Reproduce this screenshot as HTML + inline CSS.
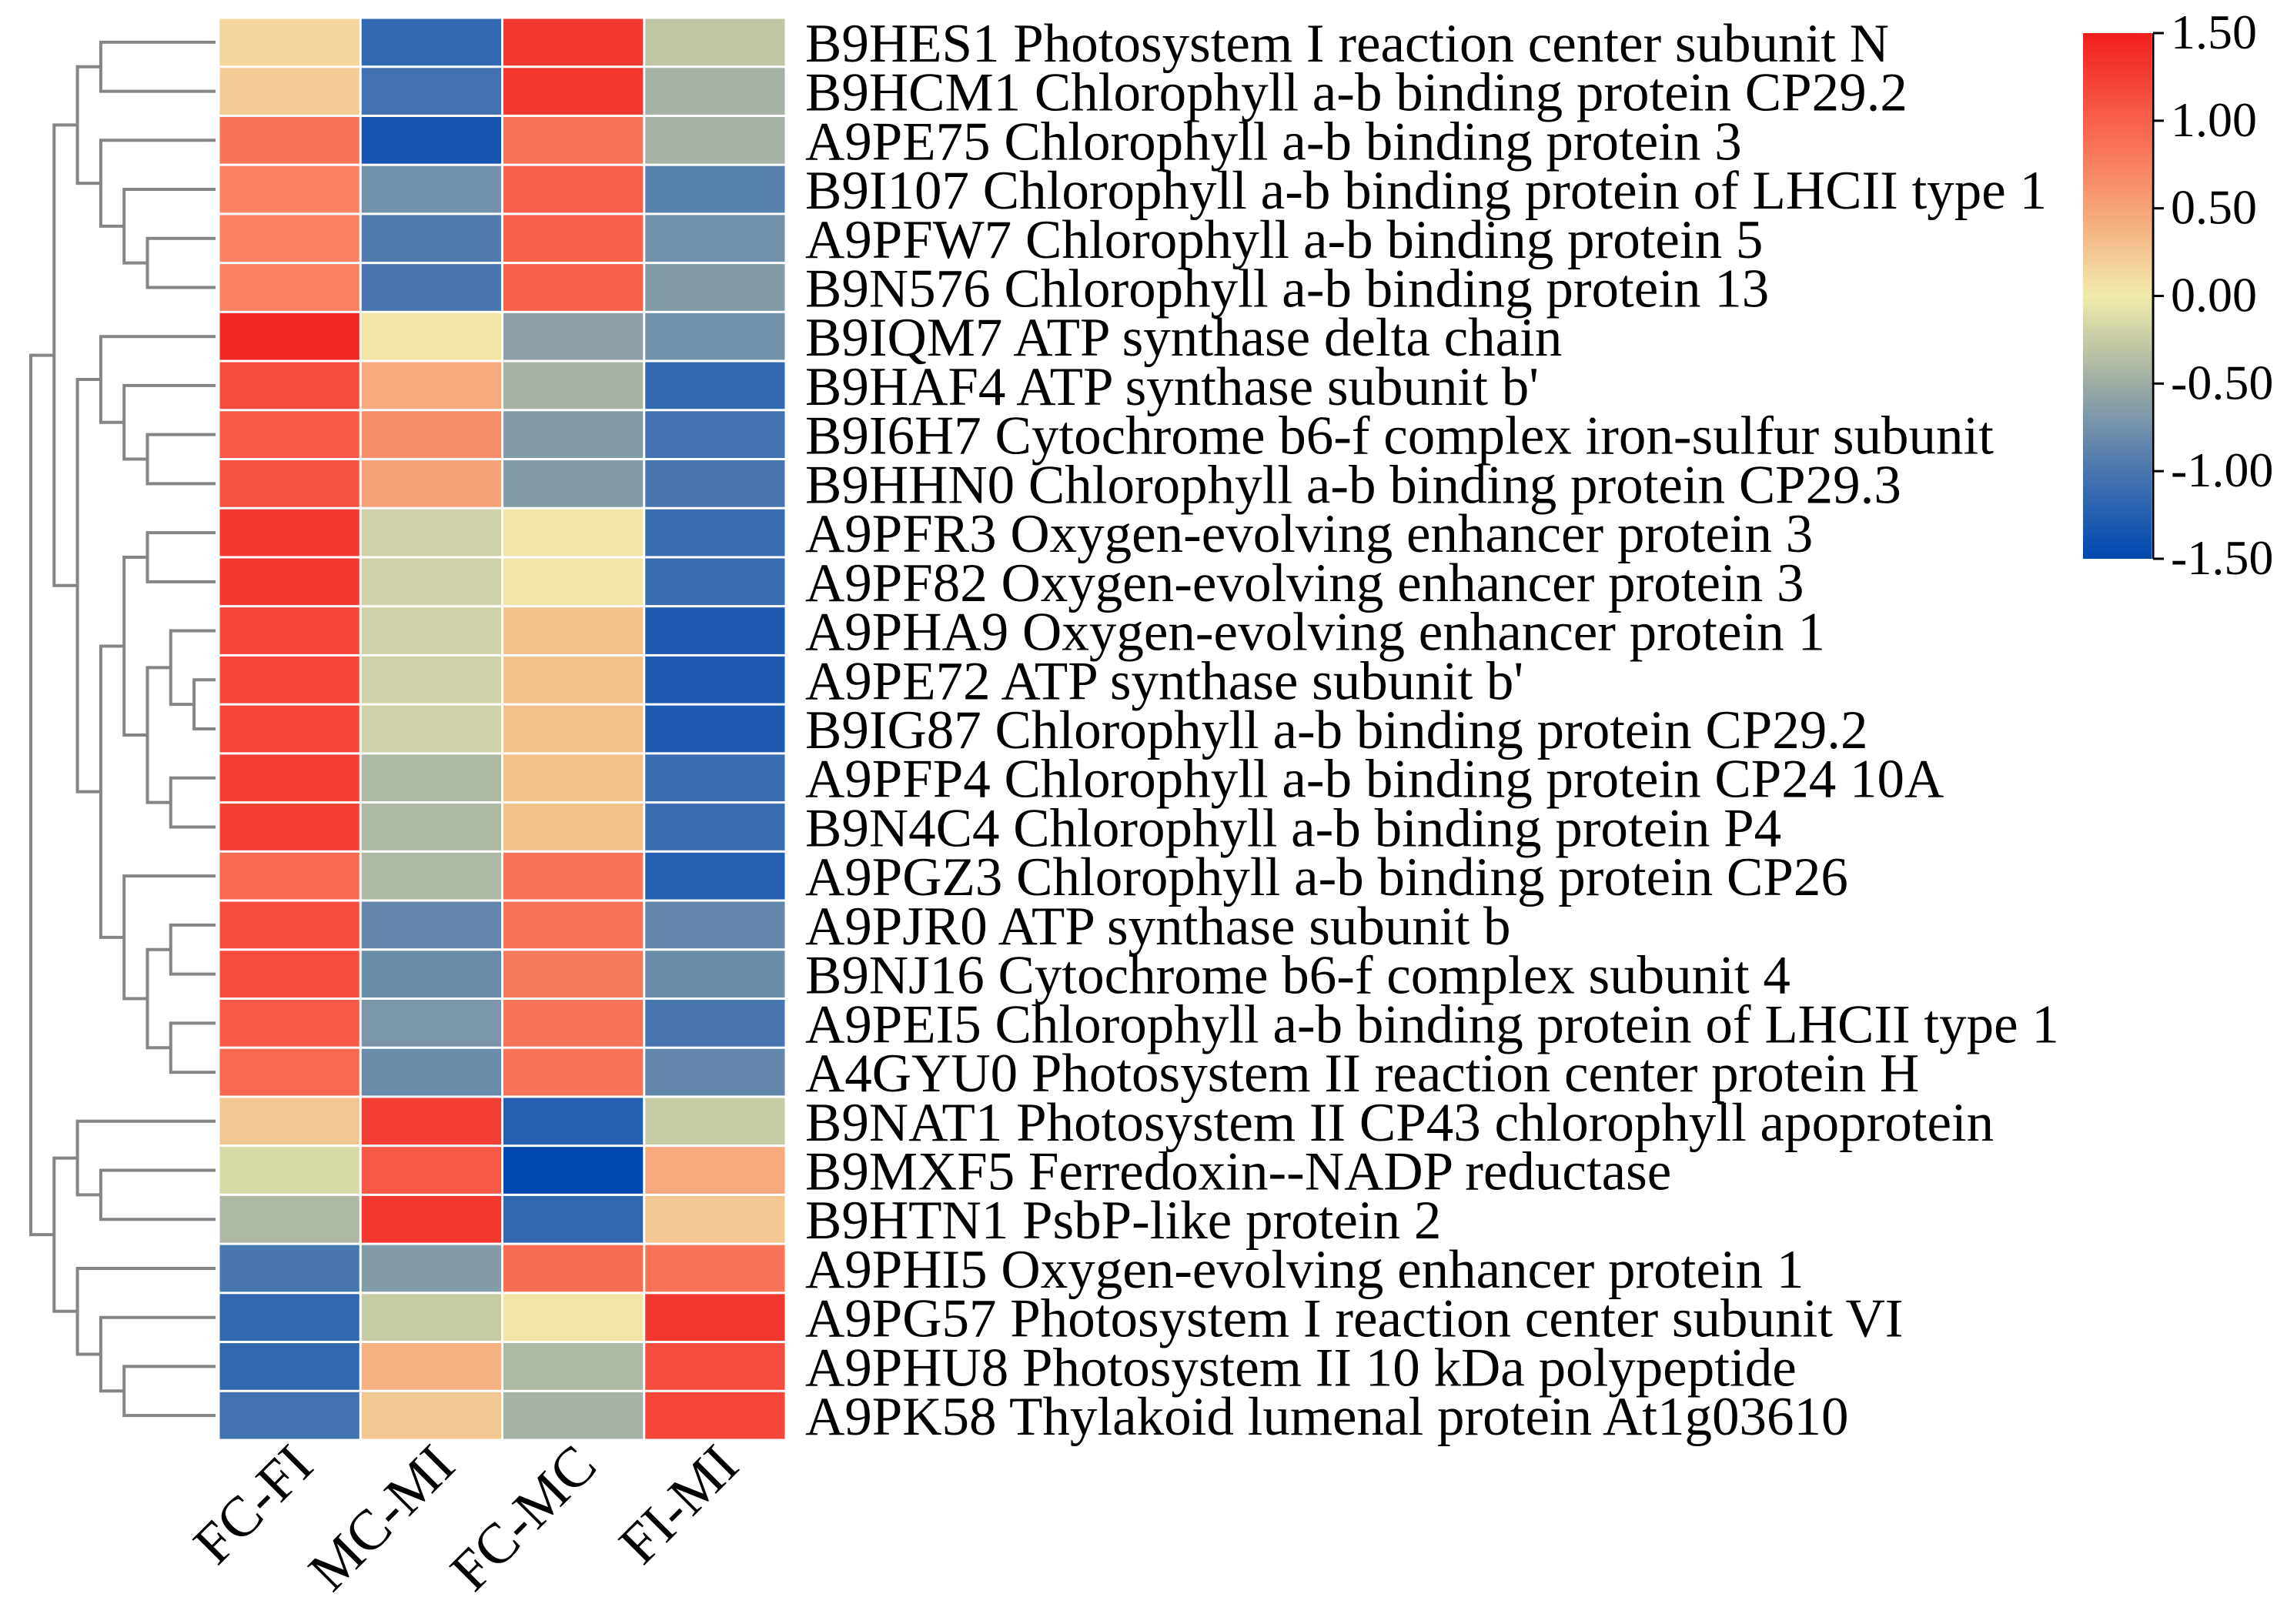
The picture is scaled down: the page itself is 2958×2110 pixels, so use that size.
<!DOCTYPE html>
<html><head><meta charset="utf-8">
<style>
html,body{margin:0;padding:0;background:#fff;}
svg{display:block;}
text{font-family:"Liberation Serif","Noto Serif CJK SC",serif;fill:#000;}
</style></head>
<body>
<svg id="chart" width="2958" height="2110" xmlns="http://www.w3.org/2000/svg">
<g id="dendro"></g>
<g id="cells"></g>
<g id="rowlabels"></g>
<g id="collabels"></g>
<g id="colorbar"></g>
</svg>
<script>
const columns = ["FC-FI","MC-MI","FC-MC","FI-MI"];
const rowNames = [
"B9HES1 Photosystem I reaction center subunit N",
"B9HCM1 Chlorophyll a-b binding protein CP29.2",
"A9PE75 Chlorophyll a-b binding protein 3",
"B9I107 Chlorophyll a-b binding protein of LHCII type 1",
"A9PFW7 Chlorophyll a-b binding protein 5",
"B9N576 Chlorophyll a-b binding protein 13",
"B9IQM7 ATP synthase delta chain",
"B9HAF4 ATP synthase subunit b'",
"B9I6H7 Cytochrome b6-f complex iron-sulfur subunit",
"B9HHN0 Chlorophyll a-b binding protein CP29.3",
"A9PFR3 Oxygen-evolving enhancer protein 3",
"A9PF82 Oxygen-evolving enhancer protein 3",
"A9PHA9 Oxygen-evolving enhancer protein 1",
"A9PE72 ATP synthase subunit b'",
"B9IG87 Chlorophyll a-b binding protein CP29.2",
"A9PFP4 Chlorophyll a-b binding protein CP24 10A",
"B9N4C4 Chlorophyll a-b binding protein P4",
"A9PGZ3 Chlorophyll a-b binding protein CP26",
"A9PJR0 ATP synthase subunit b",
"B9NJ16 Cytochrome b6-f complex subunit 4",
"A9PEI5 Chlorophyll a-b binding protein of LHCII type 1",
"A4GYU0 Photosystem II reaction center protein H",
"B9NAT1 Photosystem II CP43 chlorophyll apoprotein",
"B9MXF5 Ferredoxin--NADP reductase",
"B9HTN1 PsbP-like protein 2",
"A9PHI5 Oxygen-evolving enhancer protein 1",
"A9PG57 Photosystem I reaction center subunit VI",
"A9PHU8 Photosystem II 10 kDa polypeptide",
"A9PK58 Thylakoid lumenal protein At1g03610"];
const valsFCFI = [0.15,0.22,0.85,0.75,0.75,0.75,1.45,1.15,1.05,1.1,1.3,1.3,1.2,1.2,1.2,1.25,1.25,0.95,1.15,1.15,1.05,0.95,0.25,-0.15,-0.4,-1.0,-1.15,-1.15,-1.05];
const valsMCMI = [-1.15,-1.05,-1.35,-0.75,-0.95,-1.0,0.05,0.45,0.65,0.5,-0.2,-0.2,-0.2,-0.2,-0.2,-0.4,-0.4,-0.4,-0.85,-0.8,-0.7,-0.8,1.25,1.05,1.3,-0.65,-0.25,0.4,0.25];
const valsFCMC = [1.3,1.3,0.85,1.0,1.0,1.0,-0.6,-0.45,-0.65,-0.65,0.05,0.05,0.3,0.3,0.3,0.3,0.3,0.85,0.85,0.8,0.85,0.85,-1.25,-1.5,-1.15,0.9,0.05,-0.4,-0.45];
const valsFIMI = [-0.3,-0.45,-0.45,-0.9,-0.75,-0.65,-0.75,-1.15,-1.05,-1.0,-1.1,-1.1,-1.3,-1.3,-1.3,-1.1,-1.1,-1.25,-0.85,-0.8,-1.0,-0.85,-0.25,0.45,0.25,0.85,1.3,1.15,1.2];
const series = [valsFCFI,valsMCMI,valsFCMC,valsFIMI];
const tickLabels = ["1.50","1.00","0.50","0.00","-0.50","-1.00","-1.50"];
const tickValues = [1.5,1,0.5,0,-0.5,-1,-1.5];
const tree = [[[[0,1,3],[2,[3,[4,5,5],4],3],2],
  [[6,[7,[8,9,5],4],3],[[[10,11,5],[[12,[13,14,7],6],[15,16,6],5],4],[17,[[18,19,6],[20,21,6],5],4],3],2],1],
  [[22,[23,24,3],2],[25,[26,[27,28,4],3],2],1],0];

const NS="http://www.w3.org/2000/svg";
const X0=284,X1=1021,Y0=23,Y1=1871;
const nR=rowNames.length,nC=columns.length;
const cw=(X1-X0)/nC, rh=(Y1-Y0)/nR;
const xCol=i=>X0+i*cw, yRow=r=>Y0+r*rh;
const stops=[[-1.5,[0,72,176]],[-1,[72,118,176]],[-0.5,[158,172,164]],[0,[240,236,170]],[0.5,[246,162,120]],[1,[248,96,74]],[1.5,[240,30,30]]];
function color(v){v=Math.max(-1.5,Math.min(1.5,v));for(let i=0;i<stops.length-1;i++){const a=stops[i],b=stops[i+1];if(v<=b[0]){const t=(v-a[0])/(b[0]-a[0]);const c=a[1].map((x,k)=>Math.round(x+(b[1][k]-x)*t));return `rgb(${c})`;}}return "rgb(240,30,30)";}
function mk(tag,attrs,parent){const e=document.createElementNS(NS,tag);for(const k in attrs)e.setAttribute(k,attrs[k]);parent.appendChild(e);return e;}

const gCells=document.getElementById('cells');
for(let c=0;c<nC;c++)for(let r=0;r<nR;r++){
 const e=mk('rect',{x:xCol(c)+1.5,y:yRow(r)+1.5,width:cw-3,height:rh-3,fill:color(series[c][r])},gCells);
 
 
}
const gRL=document.getElementById('rowlabels');
rowNames.forEach((n,r)=>{const t=mk('text',{x:1046,y:yRow(r)+rh/2+25,'font-size':71},gRL);t.textContent=n;
 
 });
const gCL=document.getElementById('collabels');
columns.forEach((n,c)=>{const cx=xCol(c)+cw/2+34,cy=1908;const t=mk('text',{x:cx,y:cy,'font-size':74,'text-anchor':'end',transform:`rotate(-45 ${cx} ${cy})`},gCL);t.textContent=n;
 
 });

const gD=document.getElementById('dendro');
const levelX=l=>40+l*30.3;
const LEAFX=280;
function draw(node){
 if(typeof node==='number')return {y:yRow(node)+rh/2,x:LEAFX};
 const a=draw(node[0]),b=draw(node[1]);const x=levelX(node[2]);
 const p=`M${a.x},${a.y}H${x}V${b.y}H${b.x}`;
 const e=mk('path',{d:p,fill:'none',stroke:'#858585','stroke-width':4},gD);
 
 
 return {x:x,y:(a.y+b.y)/2};
}
draw(tree);

const gB=document.getElementById('colorbar');
const BY0=43,BY1=726,BX=2706,BW=89;
const vy=v=>BY0+(1.5-v)/3*(BY1-BY0);
const defs=mk('defs',{},gB);
const lg=mk('linearGradient',{id:'cg',x1:0,y1:0,x2:0,y2:1},defs);
for(let i=stops.length-1;i>=0;i--){mk('stop',{offset:(1.5-stops[i][0])/3,'stop-color':`rgb(${stops[i][1]})`},lg);}
const bar=mk('rect',{x:BX,y:BY0,width:BW,height:BY1-BY0,fill:'url(#cg)'},gB);


mk('line',{x1:BX+BW+2,y1:BY0,x2:BX+BW+2,y2:BY1,stroke:'#000','stroke-width':3},gB);
tickValues.forEach((v,i)=>{
 mk('line',{x1:BX+BW+2,y1:vy(v),x2:BX+BW+16,y2:vy(v),stroke:'#000','stroke-width':3},gB);
 const t=mk('text',{x:2820,y:vy(v)+20,'font-size':64},gB);t.textContent=tickLabels[i];
 
 
});
</script>
</body></html>
